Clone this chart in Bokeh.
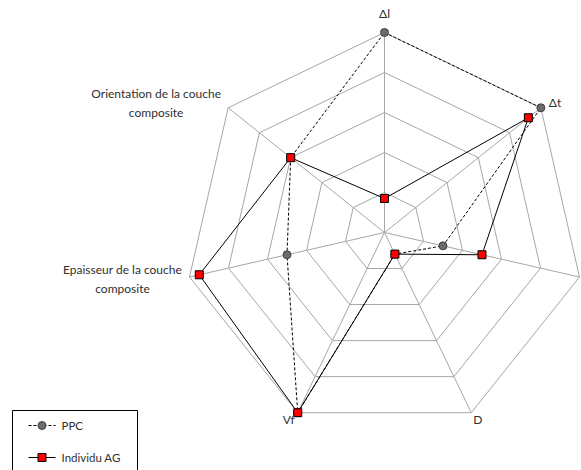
import numpy as np
from bokeh.plotting import figure
from bokeh.models import Range1d
from bokeh.core.properties import value
from bokeh.embed import file_html
from bokeh.resources import INLINE

# ---- data ----
axis_labels = ["Δl", "Δt", "", "D", "Vf",
               "Epaisseur de la couche\ncomposite",
               "Orientation de la couche\ncomposite"]
ppc = [1.0, 1.0, 0.30, 0.12, 1.0, 0.50, 0.60]
individu_ag = [0.17, 0.92, 0.50, 0.12, 1.0, 0.95, 0.60]
ring_levels = [0.2, 0.4, 0.6, 0.8, 1.0]
series_names = ["PPC", "Individu AG"]

# ---- geometry ----
W, H = 581, 470
n = len(axis_labels)
ang = np.deg2rad(90 - np.arange(n) * 360.0 / n)
SCALE = 200.0          # px per unit
CX, CY = 384.0, 232.0  # centre in px

def px2x(px):
    return (np.asarray(px, dtype=float) - CX) / SCALE

def py2y(py):
    return -(np.asarray(py, dtype=float) - CY) / SCALE

def polar(vals):
    v = np.asarray(vals, dtype=float)
    return list(v * np.cos(ang)), list(v * np.sin(ang))

FONT = value("Lato")
TXT = "#303030"

p = figure(width=W, height=H, output_backend="svg", toolbar_location=None,
           x_range=Range1d(float(px2x(0)), float(px2x(W))),
           y_range=Range1d(float(py2y(H)), float(py2y(0))),
           min_border=0, outline_line_color=None)
p.axis.visible = False
p.grid.visible = False
p.background_fill_color = "white"
p.border_fill_color = "white"

# grid rings
for lv in ring_levels:
    xs, ys = polar([lv] * n)
    p.line(xs + xs[:1], ys + ys[:1], line_color="#a6a6a6", line_width=1)
# spokes
for i in range(n):
    p.line([0, np.cos(ang[i])], [0, np.sin(ang[i])], line_color="#a6a6a6", line_width=1)

# series
xp, yp = polar(ppc)
xa, ya = polar(individu_ag)
p.line(xp + xp[:1], yp + yp[:1], line_color="black", line_width=1, line_dash="3 2")
p.scatter(xp, yp, marker="circle", size=8, fill_color="#6b6b6b", line_color="#404040")
p.line(xa + xa[:1], ya + ya[:1], line_color="black", line_width=1)
p.scatter(xa, ya, marker="square", size=8, fill_color="#ff0000", line_color="black")

# axis labels: (dx px, dy px, align)
label_layout = [(0, -19, "center"), (8, -5, "left"), (8, 0, "left"),
                (2, 7, "left"), (-3, 7, "right"),
                (-67, 2, "center"), (-72, -5, "center")]
for i, lab in enumerate(axis_labels):
    if not lab:
        continue
    dx, dy, al = label_layout[i]
    vx = np.cos(ang[i]) + dx / SCALE
    vy = np.sin(ang[i]) - dy / SCALE
    p.text([vx], [vy], text=[lab], text_align=al, text_baseline="middle",
           text_font=FONT, text_font_size="12px", text_color=TXT,
           text_line_height=1.3)

# legend (manual, box runs off the bottom like the reference)
p.line(px2x([12, 12, 137, 137]), py2y([490, 410, 410, 490]), line_color="black", line_width=1)
ly = [425, 457]
p.line(px2x([28, 55]), py2y([ly[0], ly[0]]), line_color="black", line_width=1, line_dash="3 2")
p.scatter(px2x([41.5]), py2y([ly[0]]), marker="circle", size=8, fill_color="#6b6b6b", line_color="#404040")
p.line(px2x([28, 55]), py2y([ly[1], ly[1]]), line_color="black", line_width=1)
p.scatter(px2x([41.5]), py2y([ly[1]]), marker="square", size=8, fill_color="#ff0000", line_color="black")
for k, nm in enumerate(series_names):
    p.text(px2x([61]), py2y([ly[k]]), text=[nm], text_align="left", text_baseline="middle",
           text_font=FONT, text_font_size="11.5px", text_color=TXT)

open("out.html", "w").write(file_html(p, INLINE))
